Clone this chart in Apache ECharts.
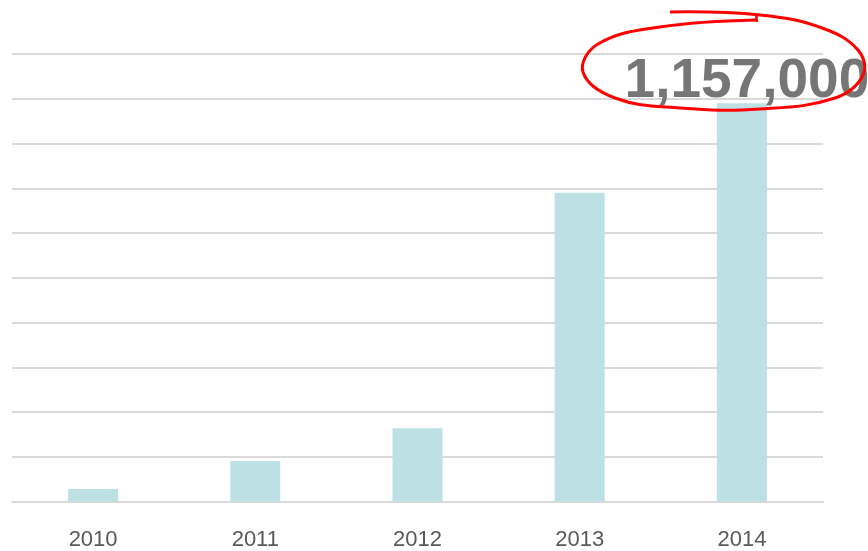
<!DOCTYPE html>
<html>
<head>
<meta charset="utf-8">
<script src="https://cdn.jsdelivr.net/npm/echarts@6/dist/echarts.min.js"></script>
<style>html,body{margin:0;padding:0;background:#fff}#c{width:868px;height:551px}</style>
</head>
<body>
<div id="c"></div>
<script>
var years = ['2010', '2011', '2012', '2013', '2014'];
var values = [36000, 118000, 213000, 897000, 1157000];
var highlightLabel = '1,157,000';

var chart = echarts.init(document.getElementById('c'), null, {renderer: 'canvas'});
chart.setOption({
  animation: false,
  grid: {left: 12, right: 45, top: 54, bottom: 49.5, containLabel: false},
  xAxis: {
    type: 'category',
    data: years,
    axisLine: {lineStyle: {color: '#d9d9d9', width: 2}},
    axisTick: {show: false},
    axisLabel: {color: '#595959', fontSize: 22, fontFamily: 'Liberation Sans, Arial, sans-serif', margin: 27}
  },
  yAxis: {
    type: 'value',
    min: 0, max: 1300000, interval: 130000,
    axisLabel: {show: false},
    axisLine: {show: false},
    axisTick: {show: false},
    splitLine: {lineStyle: {color: '#d9d9d9', width: 2}}
  },
  series: [{
    type: 'bar',
    data: values.map(function (v, i) {
      return i === values.length - 1 ? {
        value: v,
        label: {
          show: true, position: 'top', distance: 0, offset: [5, 6],
          formatter: highlightLabel,
          color: '#767676', fontSize: 55, fontWeight: 'bold',
          fontFamily: 'Liberation Sans, Arial, sans-serif'
        }
      } : v;
    }),
    barWidth: 50,
    itemStyle: {color: '#bce0e3'}
  }],
  graphic: [{
    type: 'polyline',
    z: 100,
    shape: {
      points: [[670, 12], [760, 15], [822, 28], [858, 50], [863, 75], [835, 98], [760, 109], [680, 108], [615, 98], [583, 72], [598, 44], [660, 27], [756, 20]],
      smooth: 0.4
    },
    style: {stroke: '#ff0000', lineWidth: 3, fill: null}
  }, {
    type: 'line', z: 100,
    shape: {x1: 756, y1: 14, x2: 757, y2: 22},
    style: {stroke: '#ff0000', lineWidth: 2.5}
  }]
});
</script>
</body>
</html>
